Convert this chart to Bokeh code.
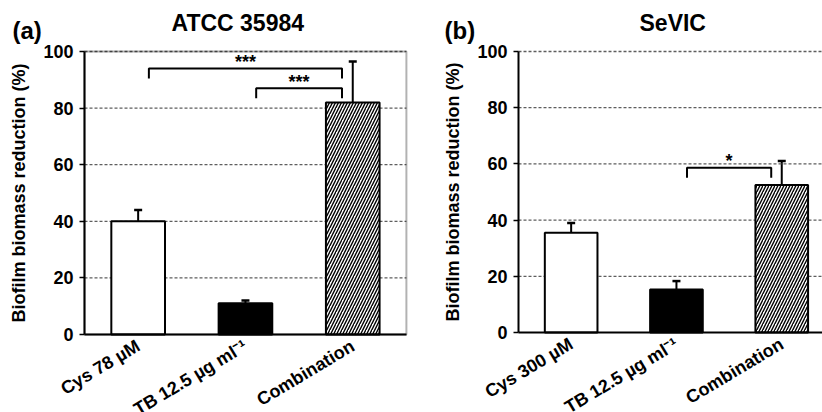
import math
from bokeh.plotting import figure
from bokeh.models import (ColumnDataSource, FixedTicker, Whisker, TeeHead, Title, Range1d,
                          BoxAnnotation)
from bokeh.layouts import row
from bokeh.embed import file_html
from bokeh.resources import INLINE
from bokeh.core.properties import value

# ---------------- data ----------------
categories_a = ["Cys 78 \u00b5M", "TB 12.5 \u00b5g ml\u207b\u00b9", "Combination"]
values_a = [40.0, 11.0, 82.0]
errors_a = [4.0, 1.0, 14.5]

categories_b = ["Cys 300 \u00b5M", "TB 12.5 \u00b5g ml\u207b\u00b9", "Combination"]
values_b = [35.5, 15.3, 52.5]
errors_b = [3.5, 3.0, 8.5]

y_ticks = [0, 20, 40, 60, 80, 100]
grid_ticks = [20, 40, 60, 80, 100]

sig_a_from = [0, 1]
sig_a_to = [2, 2]
sig_a_height = [94.0, 87.0]
sig_a_label = ["***", "***"]

sig_b_from = [1]
sig_b_to = [2]
sig_b_height = [58.6]
sig_b_label = ["*"]

# ---------------- style ----------------
FONT = "Liberation Sans"
BAR_FILLS = ["white", "black", "white"]
BAR_HATCH = [" ", " ", "/"]
BAR_WIDTH = 0.5
LEG_DROP = 3.5
BR_IN = 0.1
FIG_H = 412
FRAME_TOP = 40       # frame top, pixels from canvas top
VALUE_TOP = 51       # pixel row of the 100 % line


def make_panel(tag, title, cats, vals, errs, s_from, s_to, s_h, s_lab,
               fig_w, axis_px, cat_px, n_vis, plot_h, boxed, title_x, tag_x):
    """The frame fills the canvas below the titles; the value axis is pinned at x=0
    and the category axis at y=0 so that all tick labels stay visible."""
    n = len(cats)
    xs = [i + 0.5 for i in range(n)]
    src = ColumnDataSource(dict(
        x=xs, top=vals, upper=[v + e for v, e in zip(vals, errs)],
        fill=BAR_FILLS[:n], hatch=BAR_HATCH[:n]))

    frame_h = FIG_H - FRAME_TOP
    px_per_unit = plot_h / 100.0
    y_max = 100.0 + (VALUE_TOP - FRAME_TOP) / px_per_unit
    y_min = 100.0 - (FIG_H - VALUE_TOP) / px_per_unit
    x_min = -axis_px / cat_px
    x_max = (fig_w - axis_px) / cat_px
    x_end = min(x_max, n_vis)

    p = figure(frame_width=fig_w, frame_height=frame_h,
               x_range=Range1d(x_min, x_max), y_range=Range1d(y_min, y_max),
               output_backend="svg", toolbar_location=None,
               min_border_left=0, min_border_right=0,
               min_border_top=FRAME_TOP, min_border_bottom=0,
               background_fill_color="white", border_fill_color="white",
               outline_line_color=None)

    # main title (outer) and panel tag (next to the frame)
    p.title.text = title
    p.title.align = "left"
    p.title.offset = title_x
    p.title.text_font = FONT
    p.title.text_font_size = "23px"
    p.title.text_font_style = "bold"
    p.title.text_color = "black"
    p.title.standoff = -36
    p.add_layout(Title(text=tag, align="left", offset=tag_x, standoff=-6,
                       text_font=FONT, text_font_size="24px",
                       text_font_style="bold", text_color="black"), "above")

    # grid (dashed), restricted to the plot area
    p.xgrid.visible = False
    p.ygrid.visible = False
    p.segment(x0=[0] * len(grid_ticks), x1=[x_end] * len(grid_ticks),
              y0=grid_ticks, y1=grid_ticks, line_color="#5e5e5e",
              line_dash="3 2", line_width=1.3)

    # y axis pinned at x = 0
    ya = p.yaxis[0]
    ya.fixed_location = 0
    ya.bounds = (0, 100)
    ya.ticker = FixedTicker(ticks=y_ticks)
    ya.axis_line_color = "black"
    ya.axis_line_width = 2
    ya.major_tick_out = 5
    ya.major_tick_in = 0
    ya.major_tick_line_width = 1.5
    ya.minor_tick_line_color = None
    ya.major_label_standoff = 6
    ya.major_label_text_font = FONT
    ya.major_label_text_font_size = "18px"
    ya.major_label_text_font_style = "bold"
    ya.major_label_text_color = "black"
    ya.axis_label = "Biofilm biomass reduction (%)"
    ya.axis_label_text_font = FONT
    ya.axis_label_text_font_size = "18px"
    ya.axis_label_text_font_style = "bold"
    ya.axis_label_text_color = "black"
    ya.axis_label_standoff = 11

    # x axis pinned at y = 0; slanted category labels hang below it
    xa = p.xaxis[0]
    xa.fixed_location = 0
    xa.bounds = (0, x_end)
    xa.ticker = FixedTicker(ticks=xs)
    xa.major_label_overrides = {x: c for x, c in zip(xs, cats)}
    xa.major_label_orientation = math.radians(31)
    xa.major_label_standoff = 4
    xa.major_label_text_font = FONT
    xa.major_label_text_font_size = "18px"
    xa.major_label_text_font_style = "bold"
    xa.major_label_text_color = "black"
    xa.axis_line_color = "black"
    xa.axis_line_width = 2
    xa.major_tick_line_color = None
    xa.minor_tick_line_color = None

    # bars
    p.vbar(x="x", top="top", bottom=0, width=BAR_WIDTH, source=src,
           fill_color="fill", line_color="black", line_width=2,
           hatch_pattern="hatch", hatch_color="black", hatch_scale=6,
           hatch_weight=1.4)

    # error bars (upper only)
    p.add_layout(Whisker(source=src, base="x", lower="top", upper="upper",
                         dimension="height", line_color="black", line_width=2,
                         upper_head=TeeHead(size=8, line_color="black", line_width=2.5),
                         lower_head=None))

    # plot-area box (panel a only)
    if boxed:
        p.add_layout(BoxAnnotation(left=0, right=x_end, bottom=0, top=100,
                                   fill_color=None, line_color="black",
                                   line_width=2))

    # significance brackets
    bx, by, tx, ty = [], [], [], []
    for f, t, h in zip(s_from, s_to, s_h):
        x0 = xs[f] + BR_IN
        x1 = xs[t] - BR_IN
        bx.append([x0, x0, x1, x1])
        by.append([h - LEG_DROP, h, h, h - LEG_DROP])
        tx.append((x0 + x1) / 2)
        ty.append(h + 2.3)
    p.multi_line(bx, by, line_color="black", line_width=2)
    p.text(x=tx, y=ty, text=s_lab, text_align="center", text_baseline="alphabetic",
           text_font=value(FONT), text_font_size="18px", text_font_style="bold",
           text_color="black")
    return p


p1 = make_panel("(a)", "ATCC 35984", categories_a, values_a, errors_a,
                sig_a_from, sig_a_to, sig_a_height, sig_a_label,
                fig_w=409, axis_px=84, cat_px=107.3, n_vis=3.0, plot_h=283,
                boxed=True, title_x=171, tag_x=12)
p2 = make_panel("(b)", "SeVIC", categories_b, values_b, errors_b,
                sig_b_from, sig_b_to, sig_b_height, sig_b_label,
                fig_w=413, axis_px=109, cat_px=105.3, n_vis=3.0, plot_h=281,
                boxed=False, title_x=230, tag_x=35)

layout = row(p1, p2)
open("out.html", "w").write(file_html(layout, INLINE))
